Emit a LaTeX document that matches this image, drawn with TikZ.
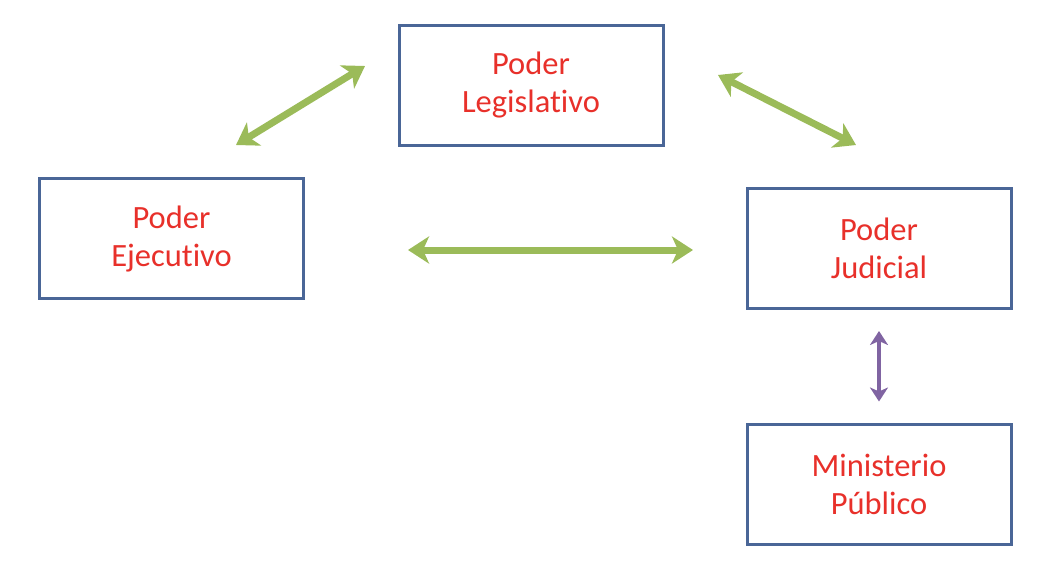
\documentclass[tikz,border=0pt]{standalone}
\usepackage{fontspec}
\setmainfont{Carlito}[Ligatures={NoCommon}]
\usepackage{xcolor}
\usetikzlibrary{arrows.meta}
\definecolor{boxblue}{HTML}{4A6697}
\definecolor{textred}{HTML}{E8302A}
\definecolor{arrowgreen}{HTML}{9BBB59}
\definecolor{arrowpurple}{HTML}{8064A2}
\tikzstyle{poder}=[rectangle,minimum width=264pt,minimum height=120pt,inner sep=0pt,align=center,draw=boxblue,line width=3pt,fill=white,text=textred,font=\fontsize{32.5}{38}\selectfont]
\tikzstyle{greenarrow}=[arrowgreen,line width=7pt,{Stealth[length=21pt,width=27pt,inset=6pt]}-{Stealth[length=21pt,width=27pt,inset=6pt]}]
\tikzstyle{purplearrow}=[arrowpurple,line width=4pt,{Stealth[length=14pt,width=18pt,inset=4pt]}-{Stealth[length=14pt,width=18pt,inset=4pt]}]

\begin{document}
\begin{tikzpicture}[node distance=150pt]
            \useasboundingbox (0pt,0pt) rectangle (1064pt,-568pt);
            \node (legislativo)[poder] at (531pt,-85pt){Poder\\Legislativo};
            \node (ejecutivo)[poder,below of=legislativo,yshift=-3.5pt,xshift=-359.5pt]{Poder\\Ejecutivo};
            \node (judicial)[poder,below of=legislativo,yshift=-13.5pt,xshift=348pt]{Poder\\Judicial};
            \node (ministerio)[poder,below of=judicial,yshift=-85.5pt,xshift=0pt]{Ministerio\\Público};
            \coordinate (le1) at (236pt,-145pt);
            \coordinate (le2) at (365pt,-66pt);
            \coordinate (lj1) at (718pt,-75pt);
            \coordinate (lj2) at (856pt,-145pt);
            \coordinate (ej1) at (408pt,-250pt);
            \coordinate (ej2) at (693pt,-250pt);
            \draw [greenarrow] (le1) -- (le2);
            \draw [greenarrow] (lj1) -- (lj2);
            \draw [greenarrow] (ej1) -- (ej2);
            \draw [purplearrow,shorten <=21pt,shorten >=21pt] (judicial.south) -- (ministerio.north);
        \end{tikzpicture}
\end{document}
